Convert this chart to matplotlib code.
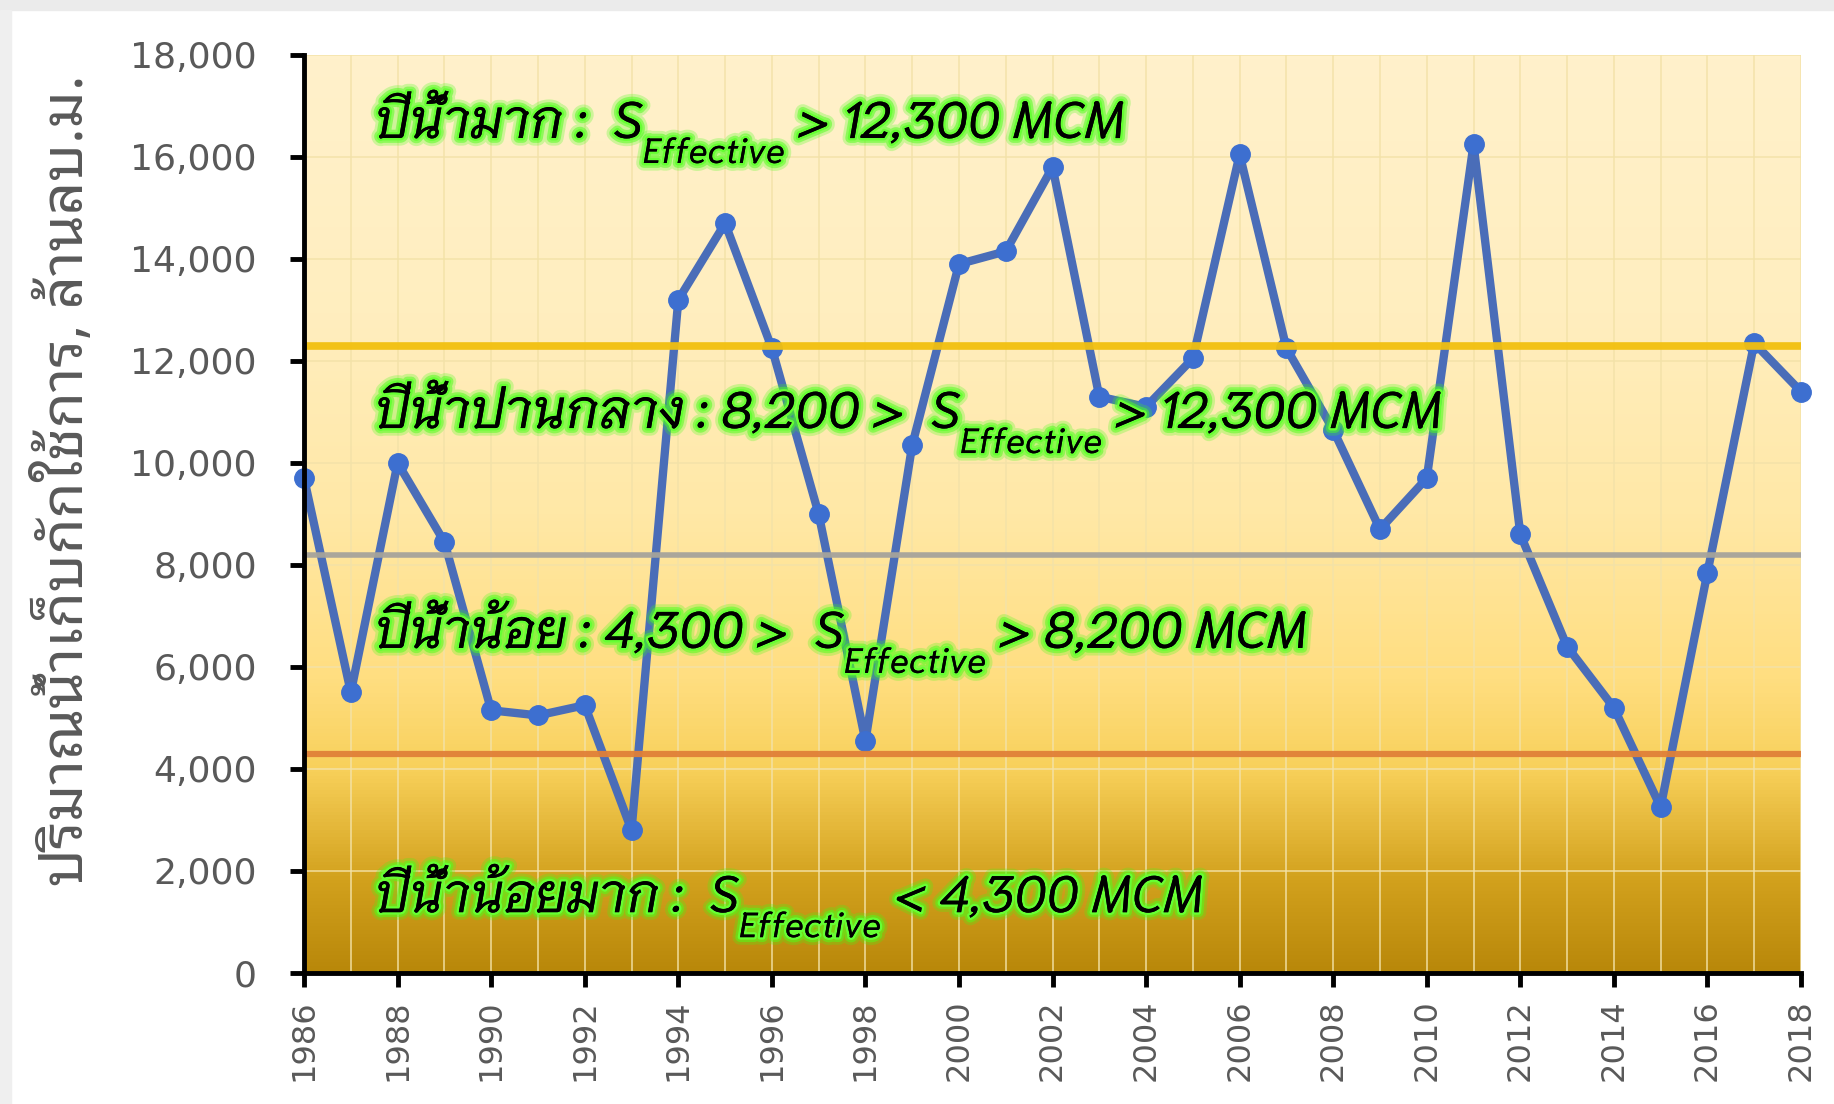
import matplotlib
matplotlib.use("Agg")
import numpy as np
from matplotlib import pyplot as plt
from matplotlib import patheffects as pe
from matplotlib.colors import LinearSegmentedColormap
from matplotlib.patches import Rectangle

# effective storage per year [million m3]
years = list(range(1986, 2019))
storage = [9700, 5500, 10000, 8450, 5150, 5050, 5250, 2800, 13200, 14700,
           12250, 9000, 4550, 10350, 13900, 14150, 15800, 11300, 11100, 12050,
           16050, 12250, 10650, 8700, 9700, 16250, 8600, 6400, 5200, 3250,
           7850, 12350, 11400]

# class limits
limit_wet = 12300
limit_mid = 8200
limit_dry = 4300

ylabel = "ปริมาณน้ำเก็บกักใช้การ, ล้านลบ.ม."
# (text before S, text after the subscript, baseline y)
labels = [
    ("ปีน้ำมาก :  ", " > 12,300 MCM", 16372),
    ("ปีน้ำปานกลาง : 8,200 >  ", " > 12,300 MCM", 10685),
    ("ปีน้ำน้อย : 4,300 >  ", " > 8,200 MCM", 6374),
    ("ปีน้ำน้อยมาก :  ", " < 4,300 MCM", 1192),
]
sub_text = "Effective"

ANN_FONT = ["Niramit", "DejaVu Sans"]
ANN_SIZE = 37

fig = plt.figure(figsize=(18.34, 11.04), dpi=100)
ax = fig.add_axes([0.1658, 0.1187, 0.9820 - 0.1658, 0.9502 - 0.1187])

# frame of the slide around the chart
fig.patches.append(Rectangle((0, 0.991), 1, 0.009, transform=fig.transFigure,
                             color="#EBEBEB", zorder=0))
fig.patches.append(Rectangle((0, 0), 0.006, 0.991, transform=fig.transFigure,
                             color="#EFEFEF", zorder=0))

# gradient background of the plot area
cmap = LinearSegmentedColormap.from_list("bg", [
    (0.00, "#B8880A"), (0.10, "#D2A11D"), (0.22, "#F8D05A"),
    (0.32, "#FFDE80"), (0.50, "#FFE8A6"), (0.72, "#FFEEBF"), (1.00, "#FFF1CB")])
grad = np.linspace(0, 1, 256).reshape(-1, 1)
ax.imshow(grad, cmap=cmap, origin="lower", aspect="auto",
          extent=(1986, 2018, 0, 18000), zorder=0)

ax.set_xlim(1986, 2018)
ax.set_ylim(0, 18000)

ax.set_xticks(np.arange(1986, 2019, 2))
ax.set_xticks(np.arange(1986, 2019, 1), minor=True)
ax.set_yticks(np.arange(0, 18001, 2000))
ax.grid(which="both", axis="x", color="#F3E2A8", linewidth=1.3, alpha=0.8, zorder=1)
ax.grid(which="major", axis="y", color="#F3E2A8", linewidth=1.3, alpha=0.8, zorder=1)
ax.set_axisbelow(False)

ax.plot(years, storage, color="#4A6DB8", linewidth=6, zorder=3,
        marker="o", markersize=14, markerfacecolor="#3D6FD0",
        markeredgecolor="#3D6FD0", clip_on=False)

ax.axhline(limit_wet, color="#F2C00F", linewidth=5.5, alpha=0.95, zorder=4)
ax.axhline(limit_mid, color="#A6A39B", linewidth=4, alpha=0.95, zorder=4)
ax.axhline(limit_dry, color="#E08038", linewidth=4.5, alpha=0.95, zorder=4)

glow = [pe.withStroke(linewidth=11, foreground="#3CFF10", alpha=0.25),
        pe.withStroke(linewidth=7, foreground="#4DFF1A", alpha=0.5),
        pe.withStroke(linewidth=3.5, foreground="#66FF33"),
        pe.Normal()]
kw = dict(family=ANN_FONT, style="italic", color="black", ha="left",
          va="baseline", path_effects=glow, zorder=6, annotation_clip=False)
for before, after, yb in labels:
    t_main = ax.annotate(before + "S", xy=(1987.5, yb), fontsize=ANN_SIZE, **kw)
    t_sub = ax.annotate(sub_text, xy=(1, yb), xycoords=(t_main, "data"),
                        xytext=(0, -18), textcoords="offset points",
                        fontsize=ANN_SIZE * 0.68, **kw)
    ax.annotate(after, xy=(1, yb), xycoords=(t_sub, "data"),
                xytext=(0, 0), textcoords="offset points",
                fontsize=ANN_SIZE, **kw)

for side in ["top", "right"]:
    ax.spines[side].set_visible(False)
for side in ["left", "bottom"]:
    ax.spines[side].set_linewidth(3.5)
    ax.spines[side].set_color("black")
    ax.spines[side].set_zorder(5)

ax.yaxis.set_major_formatter(matplotlib.ticker.StrMethodFormatter("{x:,.0f}"))
ax.tick_params(axis="y", which="major", direction="out", length=10, width=3.5,
               pad=24, labelsize=26, labelcolor="#595959")
ax.tick_params(axis="x", which="major", direction="out", length=10, width=3.5,
               pad=9, labelsize=23, labelcolor="#595959", labelrotation=90)
ax.tick_params(axis="x", which="minor", length=0)

fig.text(0.036, 0.565, ylabel, rotation=90, ha="center", va="center",
         family=["Noto Sans Thai Looped", "DejaVu Sans"], fontsize=42,
         color="#595959")

plt.savefig("out.png", dpi=100)
plt.close(fig)
